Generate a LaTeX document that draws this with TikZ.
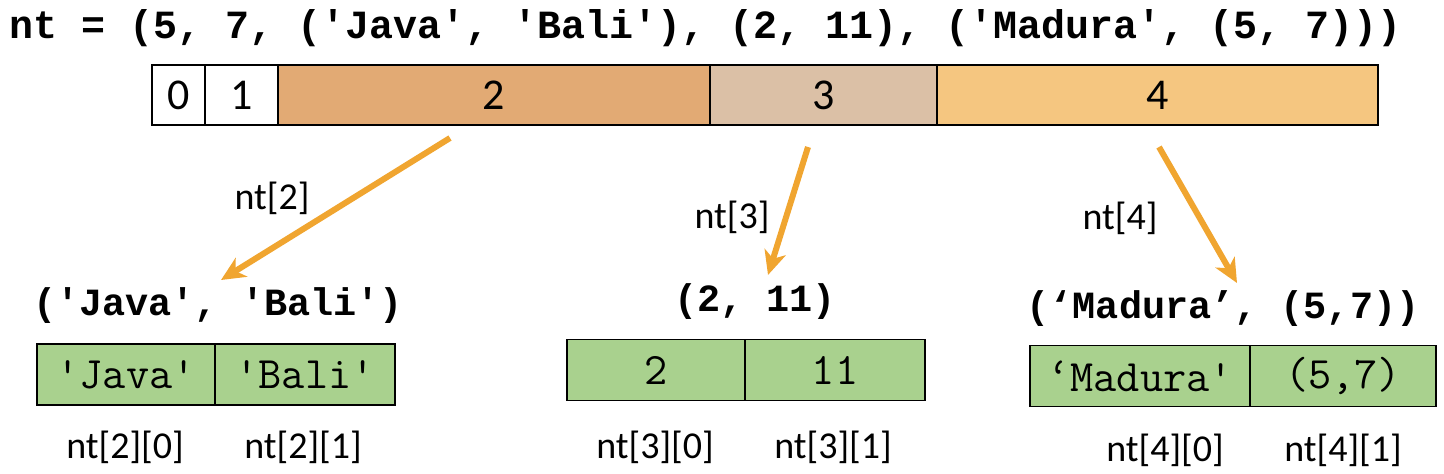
\documentclass[tikz,border=0pt]{standalone}
\usepackage{fontspec}
\setmainfont{Carlito}
\newfontfamily\codefont{Liberation Mono}
\usetikzlibrary{positioning,arrows.meta}
\definecolor{itemtwo}{HTML}{E2AA74}
\definecolor{itemthree}{HTML}{DBC0A6}
\definecolor{itemfour}{HTML}{F5C680}
\definecolor{tuplegreen}{HTML}{A9D18E}
\definecolor{ptrorange}{HTML}{F0A530}

\begin{document}
\begin{tikzpicture}[x=1pt,y=-1pt,>={Stealth[length=24pt,width=22pt,inset=7pt]},
    cell/.style={draw,line width=1.5pt,minimum height=60pt,inner sep=0pt,
                 outer sep=0pt,font=\fontsize{44}{44}\selectfont},
    elem/.style={draw,line width=1.2pt,fill=tuplegreen,minimum height=61pt,
                 inner sep=0pt,outer sep=0pt,font=\ttfamily\fontsize{45}{45}\selectfont},
    code/.style={inner sep=0pt,font=\codefont\bfseries\fontsize{40}{40}\selectfont},
    subcode/.style={code,font=\codefont\bfseries\fontsize{38.5}{38.5}\selectfont},
    idx/.style={inner sep=0pt,font=\fontsize{38}{38}\selectfont},
    ptr/.style={->,draw=ptrorange,line width=6pt}]

  \useasboundingbox (0,0) rectangle (1444,474);

  % the whole tuple
  \node[code,anchor=west] (title) at (9,28)
    {nt = (5, 7, ('Java', 'Bali'), (2, 11), ('Madura', (5, 7)))};

  \node[cell,minimum width=53pt,anchor=west] (c0) at (152,95) {0};
  \node[cell,minimum width=73pt]             (c1) [right=0pt of c0] {1};
  \node[cell,fill=itemtwo,minimum width=432pt]   (c2) [right=0pt of c1] {2};
  \node[cell,fill=itemthree,minimum width=227pt] (c3) [right=0pt of c2] {3};
  \node[cell,fill=itemfour,minimum width=441pt]  (c4) [right=0pt of c3] {4};

  % inner tuples
  \node[subcode] (t2) at (218,306) {('Java', 'Bali')};
  \node[subcode] (t3) at (755,302) {(2, 11)};
  \node[subcode] (t4) at (1223,309) {(‘Madura’, (5,7))};

  \node[elem,minimum width=178pt,anchor=west] (j0) at (37,374.5) {'Java'};
  \node[elem,minimum width=180pt]             (j1) [right=0pt of j0] {'Bali'};
  \node[elem,minimum width=178pt,anchor=west] (m0) at (567,370) {2};
  \node[elem,minimum width=180pt]             (m1) [right=0pt of m0] {11};
  \node[elem,minimum width=220pt,anchor=west] (p0) at (1030,376) {‘Madura'};
  \node[elem,minimum width=186pt]             (p1) [right=0pt of p0] {(5,7)};

  \node[idx] (j0i) at (125,447)  {nt[2][0]};
  \node[idx] (j1i) at (303,447)  {nt[2][1]};
  \node[idx] (m0i) at (655,447)  {nt[3][0]};
  \node[idx] (m1i) at (833,447)  {nt[3][1]};
  \node[idx] (p0i) at (1165,450) {nt[4][0]};
  \node[idx] (p1i) at (1343,450) {nt[4][1]};

  % pointers
  \coordinate (s2) at (450,138);  \coordinate (e2) at (221,280);
  \coordinate (s3) at (808,147);  \coordinate (e3) at (768,275);
  \coordinate (s4) at (1159,147); \coordinate (e4) at (1237,283);

  \draw[ptr] (s2) -- (e2);
  \draw[ptr] (s3) -- (e3);
  \draw[ptr] (s4) -- (e4);

  \node[idx] (l2) at (272,198)  {nt[2]};
  \node[idx] (l3) at (732,217)  {nt[3]};
  \node[idx] (l4) at (1120,218) {nt[4]};
\end{tikzpicture}
\end{document}
